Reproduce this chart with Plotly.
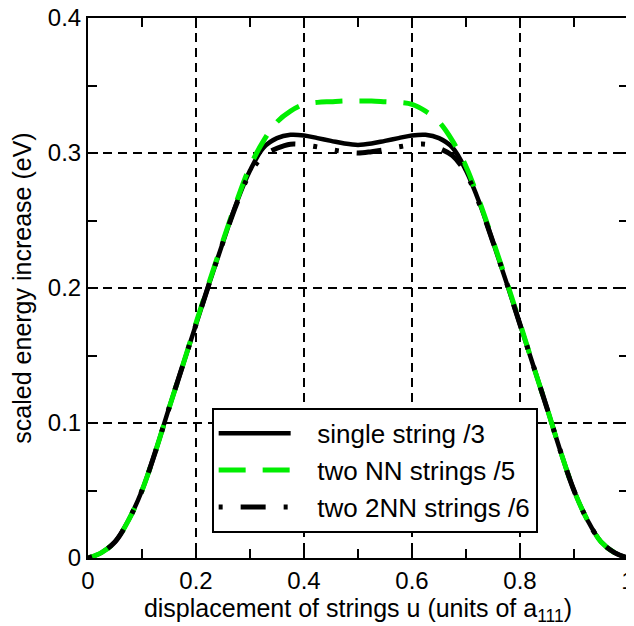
import plotly.graph_objects as go

u = [0.0, 0.025, 0.05, 0.075, 0.1, 0.125, 0.15, 0.175, 0.2, 0.225, 0.25, 0.275, 0.3, 0.325,
     0.35, 0.375, 0.4, 0.425, 0.45, 0.475, 0.5, 0.525, 0.55, 0.575, 0.6, 0.625, 0.65, 0.675,
     0.7, 0.725, 0.75, 0.775, 0.8, 0.825, 0.85, 0.875, 0.9, 0.925, 0.95, 0.975, 1.0]

single_string = [0, 0.004, 0.012, 0.028, 0.050, 0.079, 0.111, 0.142, 0.173, 0.204, 0.234, 0.263,
                 0.287, 0.304, 0.311, 0.3135, 0.313, 0.311, 0.309, 0.307, 0.306,
                 0.307, 0.309, 0.311, 0.313, 0.3135, 0.311, 0.304, 0.287, 0.263, 0.234, 0.204,
                 0.173, 0.142, 0.111, 0.079, 0.050, 0.028, 0.012, 0.004, 0]

two_nn = [0, 0.004, 0.012, 0.028, 0.050, 0.079, 0.111, 0.142, 0.174, 0.205, 0.235, 0.264,
          0.290, 0.309, 0.323, 0.331, 0.336, 0.3375, 0.338, 0.3385, 0.3385,
          0.3385, 0.338, 0.3375, 0.336, 0.331, 0.323, 0.309, 0.290, 0.264, 0.235, 0.205,
          0.174, 0.142, 0.111, 0.079, 0.050, 0.028, 0.012, 0.004, 0]

two_2nn = [0, 0.004, 0.012, 0.028, 0.050, 0.079, 0.111, 0.142, 0.173, 0.204, 0.234, 0.262,
           0.285, 0.298, 0.3035, 0.3065, 0.306, 0.3045, 0.3025, 0.301, 0.300,
           0.301, 0.3025, 0.3045, 0.306, 0.3065, 0.3035, 0.298, 0.285, 0.262, 0.234, 0.204,
           0.173, 0.142, 0.111, 0.079, 0.050, 0.028, 0.012, 0.004, 0]

names = ["single string /3", "two NN strings /5", "two 2NN strings /6"]
x_ticks = [0, 0.2, 0.4, 0.6, 0.8, 1]
x_tick_labels = ["0", "0.2", "0.4", "0.6", "0.8", "1"]
y_ticks = [0, 0.1, 0.2, 0.3, 0.4]
y_tick_labels = ["0", "0.1", "0.2", "0.3", "0.4"]

FONT = "Liberation Sans, Arial, sans-serif"
PAD = "\u00a0\u00a0\u00a0"  # gap between legend line sample and its label

fig = go.Figure()
fig.add_trace(go.Scatter(x=u, y=single_string, name=PAD + names[0], mode="lines",
                         line=dict(color="black", width=4.5, shape="spline")))
fig.add_trace(go.Scatter(x=u, y=two_nn, name=PAD + names[1], mode="lines",
                         line=dict(color="#00ee00", width=5, dash="27px,17px", shape="spline")))
fig.add_trace(go.Scatter(x=u, y=two_2nn, name=PAD + names[2], mode="lines",
                         line=dict(color="black", width=5, dash="4px,18px,25px,18px,4px,18px",
                                   shape="spline")))

axis_common = dict(
    showline=True, linecolor="black", linewidth=2, mirror="ticks",
    ticks="inside", ticklen=10, tickwidth=2, tickcolor="black",
    showgrid=True, gridcolor="black", gridwidth=1.5, griddash="9px,6px",
    zeroline=False, ticklabeloverflow="allow",
    tickfont=dict(family=FONT, size=24, color="black"),
)

fig.update_xaxes(
    range=[0, 1], tickvals=x_ticks, ticktext=x_tick_labels,
    minor=dict(dtick=0.1, ticks="inside", ticklen=9, tickwidth=2, tickcolor="black", showgrid=False),
    title=dict(text="displacement of strings u (units of a<sub>111</sub>)",
               font=dict(family=FONT, size=25, color="black"), standoff=2),
    **axis_common,
)
fig.update_yaxes(
    range=[0, 0.4], tickvals=y_ticks, ticktext=y_tick_labels,
    minor=dict(dtick=0.05, ticks="inside", ticklen=9, tickwidth=2, tickcolor="black", showgrid=False),
    title=dict(text="scaled energy increase (eV)",
               font=dict(family=FONT, size=25, color="black"), standoff=10),
    **axis_common,
)

# The page places the figure 8px in from the top-left corner, so the figure is
# sized and margined so that the plot area lands where the reference has it.
fig.update_layout(
    width=626, height=618,
    margin=dict(l=80, r=6, t=10, b=68),
    paper_bgcolor="white", plot_bgcolor="white",
    template="none",
    showlegend=True,
    legend=dict(x=0.229, y=0.278, xanchor="left", yanchor="top",
                bgcolor="white", bordercolor="black", borderwidth=2,
                font=dict(family=FONT, size=26, color="black"),
                itemwidth=72, tracegroupgap=0),
)

fig.write_html("out.html")
